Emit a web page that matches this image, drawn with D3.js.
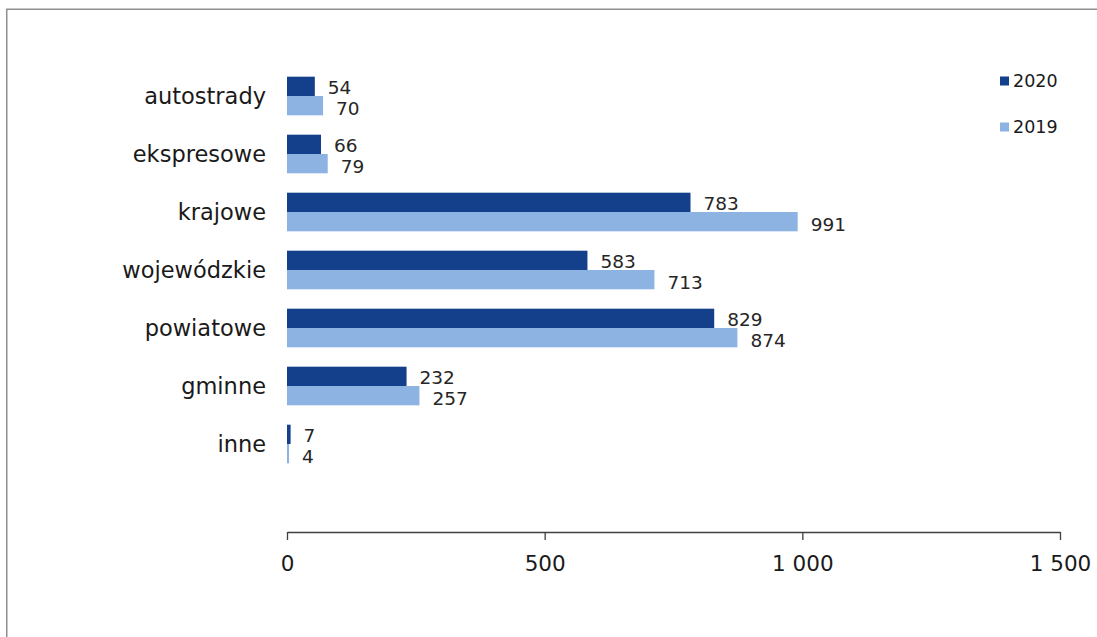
<!DOCTYPE html>
<html>
<head>
<meta charset="utf-8">
<script src="https://cdn.jsdelivr.net/npm/d3@7"></script>
<style>
  html, body { margin: 0; padding: 0; background: #fff; }
  svg { display: block; font-family: "DejaVu Sans", Verdana, sans-serif; }
</style>
</head>
<body>
<svg id="chart" width="1097" height="637"></svg>
<script>
const categories = ["autostrady", "ekspresowe", "krajowe", "wojewódzkie", "powiatowe", "gminne", "inne"];
const seriesNames = ["2020", "2019"];
const values2020 = [54, 66, 783, 583, 829, 232, 7];
const values2019 = [70, 79, 991, 713, 874, 257, 4];
const tickValues = [0, 500, 1000, 1500];
const colors = { "2020": "#143f8a", "2019": "#8db3e2" };

const svg = d3.select("#chart");

// outer border (left + top visible)
svg.append("rect")
  .attr("x", 6.75).attr("y", 9.25)
  .attr("width", 1200).attr("height", 1000)
  .attr("fill", "none").attr("stroke", "#8f8f8f").attr("stroke-width", 1.5);

const x = d3.scaleLinear().domain([0, 1500]).range([287, 1060]);
const y = d3.scaleBand().domain(categories).range([67, 473]).paddingInner(0.334).paddingOuter(0.167);
const y1 = d3.scaleBand().domain(seriesNames).range([0, y.bandwidth()]);

const data = categories.map((c, i) => ({ cat: c, "2020": values2020[i], "2019": values2019[i] }));

const groups = svg.append("g").selectAll("g").data(data).join("g")
  .attr("transform", d => `translate(0,${y(d.cat)})`);

groups.selectAll("rect").data(d => seriesNames.map(s => ({ s, v: d[s] }))).join("rect")
  .attr("x", x(0))
  .attr("y", d => y1(d.s))
  .attr("width", d => x(d.v) - x(0))
  .attr("height", y1.bandwidth())
  .attr("fill", d => colors[d.s]);

groups.selectAll("text.val").data(d => seriesNames.map(s => ({ s, v: d[s] }))).join("text")
  .attr("class", "val")
  .attr("x", d => x(d.v) + 13)
  .attr("y", d => y1(d.s) + y1.bandwidth() / 2 + (d.s === "2020" ? 1 : 2.5))
  .attr("dy", "0.35em")
  .attr("font-size", 18.5)
  .attr("fill", "#262626")
  .text(d => d.v);

// category labels
svg.append("g").selectAll("text").data(categories).join("text")
  .attr("x", 266)
  .attr("y", d => y(d) + y.bandwidth() / 2)
  .attr("dy", "0.35em")
  .attr("text-anchor", "end")
  .attr("font-size", 22.5)
  .attr("fill", "#1a1a1a")
  .text(d => d);

// x axis
const fmt = v => d3.format(",")(v).replace(/,/g, "\u00a0");
const axis = svg.append("g")
  .attr("transform", "translate(0,532)")
  .call(d3.axisBottom(x).tickValues(tickValues).tickSize(8).tickSizeOuter(0).tickFormat(fmt));
axis.select(".domain").attr("stroke", "#404040").attr("stroke-width", 1.3);
axis.selectAll(".tick line").attr("stroke", "#404040").attr("stroke-width", 1.3);
axis.selectAll(".tick text")
  .attr("y", 31).attr("dy", "0.35em")
  .attr("font-size", 21.5)
  .attr("font-family", "DejaVu Sans, Verdana, sans-serif")
  .attr("fill", "#1a1a1a");

// legend
const legend = svg.append("g").selectAll("g").data(seriesNames).join("g")
  .attr("transform", (d, i) => `translate(1000,${81 + i * 46})`);
legend.append("rect")
  .attr("x", 0).attr("y", -4.5).attr("width", 9).attr("height", 9)
  .attr("fill", d => colors[d]);
legend.append("text")
  .attr("x", 13).attr("y", 0).attr("dy", "0.35em")
  .attr("font-size", 17.5)
  .attr("fill", "#1a1a1a")
  .text(d => d);
</script>
</body>
</html>
